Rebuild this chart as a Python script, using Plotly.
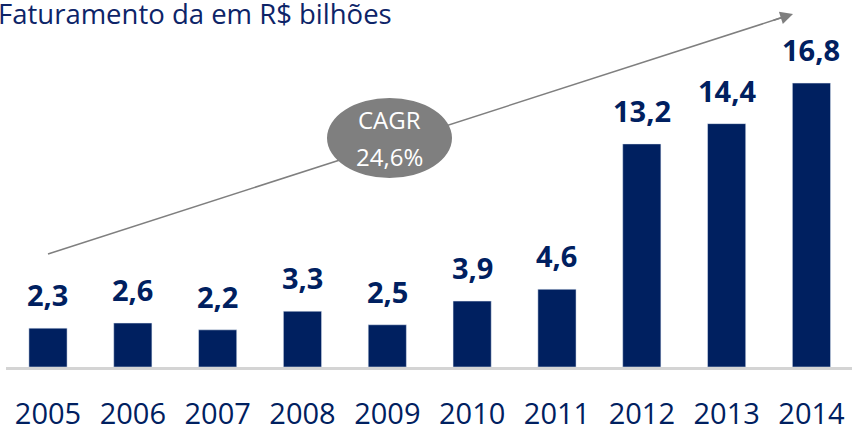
import plotly.graph_objects as go

years = ["2005", "2006", "2007", "2008", "2009", "2010", "2011", "2012", "2013", "2014"]
revenue = [2.3, 2.6, 2.2, 3.3, 2.5, 3.9, 4.6, 13.2, 14.4, 16.8]
title_text = "Faturamento da em R$ bilhões"
cagr_lines = ["CAGR", "24,6%"]

NAVY = "#002060"
GRAY = "#7f7f7f"
FONT = "Open Sans"

W, H = 852, 427
ML, MR, MT, MB = 6, 0, 20, 60
PW, PH = W - ML - MR, H - MT - MB


def px(xp):
    return (xp - ML) / PW


def py(yp):
    return (H - MB - yp) / PH


fig = go.Figure(go.Bar(
    x=years, y=revenue, marker_color=NAVY, width=0.45,
    hoverinfo="x+y",
))

annotations = []
for i, v in enumerate(revenue):
    annotations.append(dict(
        x=i, y=v, xref="x", yref="y", text=f"{v:.1f}".replace(".", ","),
        showarrow=False, yanchor="bottom", yshift=12,
        font=dict(family=FONT, size=29, color=NAVY, weight="bold"),
    ))

# title
annotations.append(dict(
    x=px(-4), y=py(13), xref="paper", yref="paper", text=title_text,
    showarrow=False, xanchor="left", yanchor="middle",
    font=dict(family=FONT, size=27.5, color="#0d2468"),
))

# arrowhead at the tip of the trend line
tip = (793, 14)
tail = (48, 254)
dx, dy = tip[0] - tail[0], tip[1] - tail[1]
L = (dx * dx + dy * dy) ** 0.5
annotations.append(dict(
    x=px(tip[0]), y=py(tip[1]), xref="paper", yref="paper", text="",
    showarrow=True, arrowhead=2, arrowsize=1.7, arrowwidth=1.5, arrowcolor=GRAY,
    ax=-dx / L * 22, ay=-dy / L * 22, axref="pixel", ayref="pixel",
))

# CAGR text
for txt, ypix in zip(cagr_lines, [120, 156]):
    annotations.append(dict(
        x=px(389), y=py(ypix), xref="paper", yref="paper", text=txt,
        showarrow=False, xanchor="center", yanchor="middle",
        font=dict(family=FONT, size=24, color="white"),
    ))

shapes = [
    dict(type="line", xref="paper", yref="paper",
         x0=px(tail[0]), y0=py(tail[1]), x1=px(tip[0] - dx / L * 10), y1=py(tip[1] - dy / L * 10),
         line=dict(color=GRAY, width=1.5), layer="above"),
    dict(type="circle", xref="paper", yref="paper",
         x0=px(327), x1=px(452), y0=py(178), y1=py(98),
         fillcolor=GRAY, line=dict(width=0), layer="above"),
]

fig.update_layout(
    width=W, height=H,
    margin=dict(l=ML, r=MR, t=MT, b=MB),
    paper_bgcolor="white", plot_bgcolor="white",
    showlegend=False,
    annotations=annotations,
    shapes=shapes,
    xaxis=dict(
        type="category", range=[-0.495, 9.478],
        showline=True, linecolor="#d4d4d4", linewidth=3,
        showgrid=False, zeroline=False, ticks="",
        ticklabelstandoff=19, automargin=False,
        tickfont=dict(family=FONT, size=29, color=NAVY),
    ),
    yaxis=dict(
        range=[0, PH / 16.9], visible=False, showgrid=False, zeroline=False,
        fixedrange=True,
    ),
)

fig.write_html(
    "out.html",
    config={"displayModeBar": False},
    post_script="document.body.style.margin='0';document.body.style.overflow='hidden';",
)
